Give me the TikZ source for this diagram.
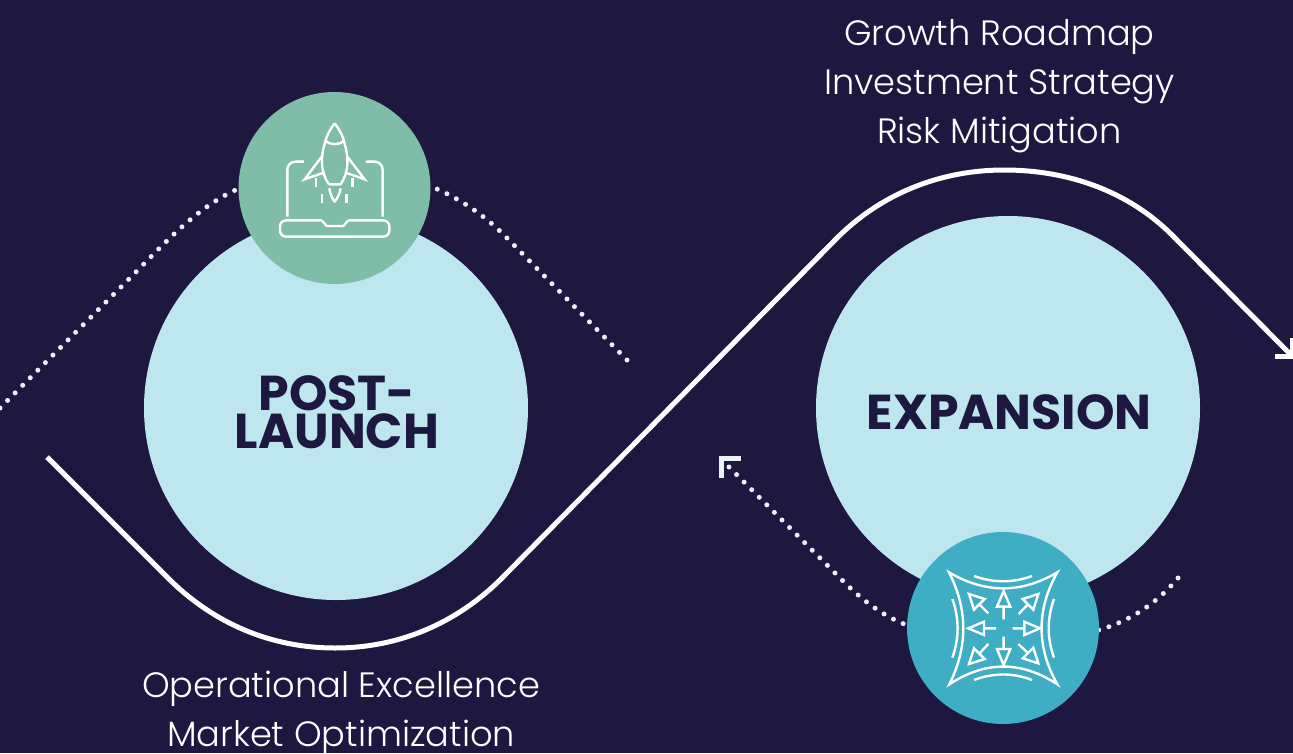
\documentclass[tikz,border=0pt]{standalone}
\usepackage{fontspec}
\setmainfont{Poppins}
\newfontfamily\lightf{Poppins Light}
\newfontfamily\boldf{Poppins Bold}
\definecolor{bgc}{HTML}{1E1740}
\definecolor{lightc}{HTML}{BEE6EE}
\definecolor{greenc}{HTML}{7FBDA9}
\definecolor{bluec}{HTML}{3FADC4}
\definecolor{dotc}{HTML}{E8F3F8}
\tikzset{
 bigc/.style={circle,fill=lightc,minimum size=384pt,inner sep=0pt,text=bgc,align=center},
 smallc/.style={circle,minimum size=192pt,inner sep=0pt},
 labeltext/.style={text=white,align=center,inner sep=0pt,font=\lightf\fontsize{35.2}{49}\selectfont},
 headtext/.style={text=bgc,align=center,inner sep=0pt,font=\boldf\fontsize{49}{38}\selectfont},
 mainline/.style={draw=white,line width=5pt,line cap=butt},
 dotline/.style={draw=dotc,line width=5pt,line cap=round,dash pattern=on 0pt off 10.7pt},
 tipline/.style={draw=dotc,line width=5pt},
 ico/.style={draw=white,line width=2.4pt,line join=miter,fill=none},
}
\begin{document}
\begin{tikzpicture}[x=1pt,y=-1pt]
\useasboundingbox (0,0) rectangle (1293,753);
\fill[bgc] (0,0) rectangle (1293,753);
\begin{scope}
\clip (0,0) rectangle (1293,753);
% circles
\node[bigc] (post) at (336,408) {};
\node[bigc] (expansion) at (1008,408) {};
\node[headtext] (posttext) at (337,412) {POST-\\LAUNCH};
\node[headtext] (exptext) at (1009,412) {EXPANSION};
% coordinates of connectors
\coordinate (a0) at (47,457);
\coordinate (a1) at (168,578);
\coordinate (a2) at (502,578);
\coordinate (a3) at (835,240);
\coordinate (a4) at (1172,235);
\coordinate (a5) at (1292,356);
\draw[mainline] (a0) -- (a1) .. controls (214,624) and (272,648) .. (335,648) .. controls (398,648) and (456,624) .. (a2)
  -- (a3) .. controls (880,194) and (940,170) .. (1004,170) .. controls (1068,170) and (1128,191) .. (a4) -- (a5);
\draw[draw=white,line width=4.5pt] (1275,356.5) -- (1293,356.5) (1292,338) -- (1292,358);
% dotted
\coordinate (d0) at (0,408);
\coordinate (d1) at (130,278);
\coordinate (d2) at (627,360);
\coordinate (d3) at (505,236);
\coordinate (d4) at (729,467);
\coordinate (d5) at (840,578);
\coordinate (d6) at (1178,578);
\draw[dotline] (d0) -- (d1) .. controls (165,243) and (200,203) .. (245,186);
\draw[dotline] (d2) -- (d3) .. controls (482,213) and (456,196) .. (425,184);
\draw[dotline] (d4) -- (d5) .. controls (862,600) and (884,618) .. (915,628);
\draw[dotline] (d6) .. controls (1158,602) and (1130,622) .. (1095,631);
\coordinate (t0) at (741,458.7);
\coordinate (t1) at (721.5,458.7);
\coordinate (t2) at (721.5,478);
\draw[tipline] (t0) -- (t1) -- (t2);
% icon circles
\node[smallc,fill=greenc] (rocket) at (334.5,188) {};
\node[smallc,fill=bluec] (grow) at (1003,628) {};
% rocket icon
\begin{scope}[shift={(230,90)},x=.3333pt,y=-.3333pt]
\draw[ico,line join=round] (314,100) .. controls (300,118) and (288,140) .. (285,158) .. controls (272,200) and (270,245) .. (297,283);
\draw[ico,line join=round] (314,100) .. controls (328,118) and (340,140) .. (343,158) .. controls (356,200) and (358,245) .. (332,283) -- (297,283);
\draw[ico] (285,152) .. controls (300,166) and (328,166) .. (343,152);
\draw[ico] (275,200) -- (224,268) -- (281,248);
\draw[ico] (352,200) -- (404,268) -- (347,248);
\draw[ico,line join=round] (298,295) .. controls (300,312) and (308,328) .. (314,335) .. controls (320,328) and (330,312) .. (332,295);
\draw[ico] (258,265) -- (258,290) (368,265) -- (368,290) (276,312) -- (276,340) (350,312) -- (350,340);
\draw[ico,rounded corners=8pt] (222,215) -- (172,215) -- (172,380);
\draw[ico,rounded corners=8pt] (408,215) -- (458,215) -- (458,380);
\draw[ico,line join=round] (275,391) -- (290,408) -- (340,408) -- (355,391);
\draw[ico,rounded corners=6pt] (275,391) -- (150,391) -- (150,440) -- (478,440) -- (478,391) -- (355,391);
\end{scope}
% expansion icon
\begin{scope}[shift={(900,525)},x=.3333pt,y=-.3333pt]
\draw[ico] (147,142) .. controls (256,206) and (364,206) .. (472,142)
  .. controls (409,254) and (409,366) .. (472,478)
  .. controls (364,407) and (256,407) .. (148,478)
  .. controls (204,366) and (204,254) .. (147,142) -- cycle;
\draw[ico] (222,153) .. controls (280,174) and (340,174) .. (396,153);
\draw[ico] (222,465) .. controls (280,443) and (340,443) .. (396,465);
\draw[ico] (157,222) .. controls (178,280) and (178,340) .. (157,398);
\draw[ico] (462,222) .. controls (441,280) and (441,340) .. (462,398);
\draw[ico] (311,198) -- (291,245) -- (331,245) -- cycle (311,245) -- (311,283);
\draw[ico] (311,420) -- (291,372) -- (331,372) -- cycle (311,372) -- (311,335);
\draw[ico] (205,310) -- (252,290) -- (252,330) -- cycle (252,310) -- (288,310);
\draw[ico] (420,310) -- (373,290) -- (373,330) -- cycle (373,310) -- (338,310);
\draw[ico] (207,207) -- (254,222) -- (222,254) -- cycle (236,236) -- (265,265);
\draw[ico] (415,207) -- (368,222) -- (400,254) -- cycle (386,236) -- (356,267);
\draw[ico] (207,417) -- (222,370) -- (254,402) -- cycle (236,388) -- (265,357);
\draw[ico] (415,415) -- (400,368) -- (368,400) -- cycle (386,386) -- (355,357);
\end{scope}
% labels
\node[labeltext] (top) at (999.5,86) {Growth Roadmap\\Investment Strategy\\Risk Mitigation};
\node[labeltext] (bottom) at (341,713) {Operational Excellence\\Market Optimization};
\end{scope}
\end{tikzpicture}
\end{document}
